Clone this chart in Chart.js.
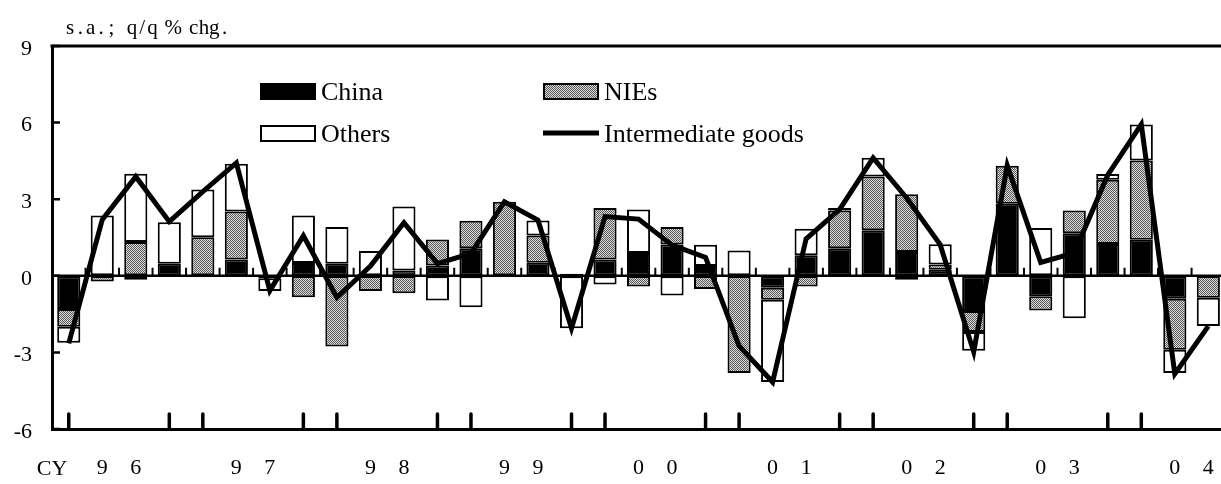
<!DOCTYPE html>
<html><head><meta charset="utf-8">
<script src="https://cdn.jsdelivr.net/npm/chart.js@4.4.1/dist/chart.umd.min.js"></script>
<style>
html,body{margin:0;padding:0;background:#fff;overflow:hidden;width:1221px;height:484px;}
#wrap{position:relative;width:1240px;height:484px;}
</style></head><body>
<div id="wrap"><canvas id="c"></canvas></div>
<script>
const quarters = ['1996Q1','1996Q2','1996Q3','1996Q4','1997Q1','1997Q2','1997Q3','1997Q4',
  '1998Q1','1998Q2','1998Q3','1998Q4','1999Q1','1999Q2','1999Q3','1999Q4',
  '2000Q1','2000Q2','2000Q3','2000Q4','2001Q1','2001Q2','2001Q3','2001Q4',
  '2002Q1','2002Q2','2002Q3','2002Q4','2003Q1','2003Q2','2003Q3','2003Q4',
  '2004Q1','2004Q2','2004Q3'];
const xTickLabels = ['','9','6','', '','9','7','', '','9','8','', '','9','9','',
  '','0','0','', '','0','1','', '','0','2','', '','0','3','', '','0','4'];
const china = [-1.30,0.00,-0.15,0.47, 0.00,0.64,0.00,0.50, 0.47,0.00,0.21,0.40, 1.08,0.00,0.51,0.08,
  0.64,0.89,1.23,0.38, 0.00,-0.47,0.80,1.08, 1.78,0.93,0.24,-1.38, 2.82,-0.80,1.67,1.25, 1.41,-0.90,0.00];
const nies = [-0.70,-0.22,1.32,0.00, 1.51,1.88,-0.10,-0.84, -2.77,-0.60,-0.68,1.02, 1.08,2.90,1.07,0.00,
  2.02,-0.42,0.68,-0.52, -3.81,-0.47,-0.42,1.48, 2.11,2.26,0.20,-0.82, 1.49,-0.56,0.89,2.51, 3.11,-2.00,-0.86];
const others = [-0.62,2.36,2.68,1.63, 1.87,1.87,-0.50,1.86, 1.44,0.97,2.50,-0.97, -1.23,0.00,0.59,-2.05,
  -0.34,1.71,-0.77,0.84, 0.99,-3.22,1.04,0.10, 0.73,-0.15,0.80,-0.74, 0.00,1.87,-1.66,0.23, 1.41,-0.91,-1.11];
const intermediateGoods = [-2.65,2.20,3.88,2.12, 3.30,4.42,-0.58,1.57, -0.85,0.38,2.08,0.48, 0.88,2.90,2.18,-2.05,
  2.32,2.22,1.20,0.72, -2.75,-4.16,1.45,2.60, 4.62,3.05,1.22,-2.98, 4.32,0.52,0.90,3.95, 5.93,-3.84,-1.97];
const seriesNames = ['China','NIEs','Others','Intermediate goods'];
const unitLabel = 's.a.; q/q % chg.';
const axisPrefix = 'CY';
const yMin = -6, yMax = 9, yStep = 3;

const FONT = "'Liberation Serif','Times New Roman',serif";
const canvas = document.getElementById('c');
const mainCtx = canvas.getContext('2d');
function makePattern(){
  const p = document.createElement('canvas'); p.width = 2; p.height = 2;
  const g = p.getContext('2d');
  g.fillStyle = '#dcdcdc'; g.fillRect(0,0,2,2);
  g.fillStyle = '#585858'; g.fillRect(0,0,1,1); g.fillRect(1,1,1,1);
  return mainCtx.createPattern(p,'repeat');
}
const grayPattern = makePattern();

const decor = {
  id: 'decor',
  beforeDatasetsDraw(chart){
    const {ctx, chartArea:a, scales:{x,y}} = chart;
    ctx.save();
    ctx.strokeStyle = '#000';
    const y0 = y.getPixelForValue(0);
    ctx.lineWidth = 2.5;
    ctx.beginPath(); ctx.moveTo(a.left, y0); ctx.lineTo(a.right, y0); ctx.stroke();
    ctx.lineWidth = 2;
    ctx.beginPath();
    for (let i = 0; i < quarters.length - 1; i++){
      const xb = (x.getPixelForValue(i) + x.getPixelForValue(i+1)) / 2;
      ctx.moveTo(xb, y0); ctx.lineTo(xb, y0 - 8);
    }
    ctx.stroke();
    ctx.restore();
  },
  afterDraw(chart){
    const {ctx, chartArea:a, scales:{x,y}} = chart;
    ctx.save();
    ctx.strokeStyle = '#000'; ctx.fillStyle = '#000';
    ctx.lineWidth = 3;
    ctx.beginPath(); ctx.moveTo(a.left - 1.5, a.top); ctx.lineTo(a.right, a.top); ctx.stroke();
    ctx.lineWidth = 2.5;
    ctx.beginPath();
    y.ticks.forEach(t => { const py = y.getPixelForValue(t.value); ctx.moveTo(a.left, py); ctx.lineTo(a.left + 8, py); });
    ctx.stroke();
    ctx.lineWidth = 3.5; ctx.lineCap = 'round';
    ctx.beginPath();
    for (let i = 0; i < quarters.length; i++){
      if (i % 4 === 0 || i % 4 === 3){
        const px = x.getPixelForValue(i);
        ctx.moveTo(px, a.bottom); ctx.lineTo(px, a.bottom - 15);
      }
    }
    ctx.stroke();
    ctx.lineCap = 'butt';
    // unit label
    ctx.font = '21px ' + FONT; ctx.textAlign = 'center'; ctx.textBaseline = 'alphabetic';
    for (let k = 0; k < unitLabel.length; k++){
      ctx.fillText(unitLabel[k], 65 + 10.3 * (k + 0.5), 34);
    }
    ctx.font = '22px ' + FONT; ctx.textBaseline = 'middle';
    ctx.fillText(axisPrefix, 52, 469);
    const items = [
      {name: seriesNames[0], kind:'china', x:260, y:83},
      {name: seriesNames[1], kind:'nies', x:543, y:83},
      {name: seriesNames[2], kind:'others', x:260, y:125},
      {name: seriesNames[3], kind:'line', x:543, y:125}
    ];
    ctx.font = '26px ' + FONT; ctx.textAlign = 'left'; ctx.textBaseline = 'alphabetic';
    items.forEach(it => {
      const w = 56, h = 17;
      if (it.kind === 'line'){
        ctx.lineWidth = 5;
        ctx.beginPath(); ctx.moveTo(it.x, it.y + 8); ctx.lineTo(it.x + w, it.y + 8); ctx.stroke();
      } else {
        ctx.fillStyle = it.kind === 'china' ? '#000' : (it.kind === 'nies' ? grayPattern : '#fff');
        ctx.fillRect(it.x, it.y, w, h);
        ctx.lineWidth = 2; ctx.strokeStyle = '#000';
        ctx.strokeRect(it.x + 1, it.y + 1, w - 2, h - 2);
      }
      ctx.fillStyle = '#000';
      ctx.fillText(it.name, it.x + w + 5, it.y + h);
    });
    ctx.restore();
  }
};

const barCommon = {
  type: 'bar', stack: 'bars', borderColor: '#000', borderWidth: 2, borderSkipped: false,
  barPercentage: 0.69, categoryPercentage: 1.0, order: 2
};

new Chart(canvas, {
  data: {
    labels: quarters,
    datasets: [
      Object.assign({label: seriesNames[0], data: china, backgroundColor: '#000'}, barCommon),
      Object.assign({label: seriesNames[1], data: nies, backgroundColor: grayPattern}, barCommon),
      Object.assign({label: seriesNames[2], data: others, backgroundColor: '#fff'}, barCommon),
      {type: 'line', label: seriesNames[3], data: intermediateGoods, stack: 'line', borderColor: '#000',
       borderWidth: 5, pointRadius: 0, tension: 0, fill: false, order: 0, borderJoinStyle: 'miter'}
    ]
  },
  options: {
    responsive: true, maintainAspectRatio: false, animation: false, devicePixelRatio: 1,
    layout: {padding: {top: 46, right: 12, left: 0, bottom: 0}},
    plugins: {legend: {display: false}, tooltip: {enabled: false}, title: {display: false}},
    scales: {
      x: {
        stacked: true, offset: true,
        grid: {display: true, drawOnChartArea: false, drawTicks: false},
        border: {display: true, color: '#000', width: 3},
        ticks: {autoSkip: false, maxRotation: 0, minRotation: 0, padding: 26, color: '#000',
          font: {family: FONT, size: 22},
          callback: (v, i) => xTickLabels[i]},
        afterFit: s => { s.height = 55; }
      },
      y: {
        stacked: true, min: yMin, max: yMax,
        grid: {display: true, drawOnChartArea: false, drawTicks: false},
        border: {display: true, color: '#000', width: 3},
        ticks: {stepSize: yStep, padding: 20, color: '#000', labelOffset: 3,
          font: {family: FONT, size: 22}},
        afterFit: s => { s.width = 52; }
      }
    }
  },
  plugins: [decor]
});
</script>
</body></html>
